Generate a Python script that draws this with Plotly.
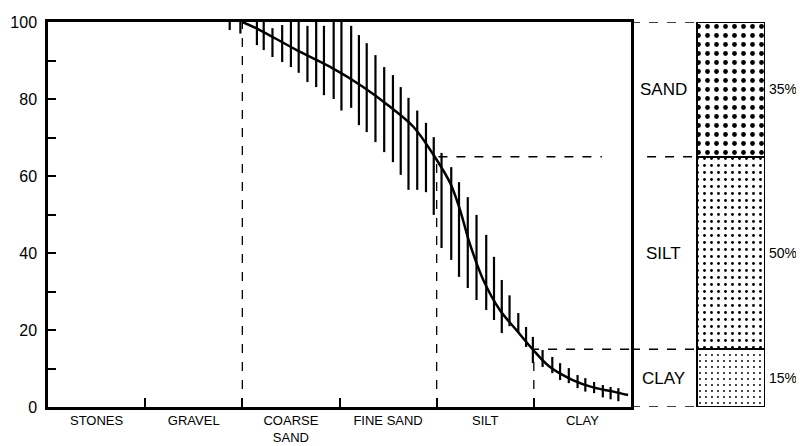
import plotly.graph_objects as go

# particle size classes along the bottom axis (one unit each)
classes = ["STONES", "GRAVEL", "COARSE<br>SAND", "FINE SAND", "SILT", "CLAY"]
class_centres = [0.5, 1.5, 2.5, 3.5, 4.5, 5.5]
class_bounds = [1, 2, 3, 4, 5]

# cumulative grading curve (% passing)
curve_x = [2.0, 2.15, 2.56, 2.90, 3.24, 3.52, 3.76, 3.98, 4.14, 4.24, 4.34,
           4.48, 4.65, 4.82, 4.98, 5.16, 5.40, 5.61, 5.82, 5.97]
curve_y = [100, 98.3, 92.7, 88.4, 83.2, 78.0, 72.8, 65.0, 58.1, 51.2, 42.5,
           33.0, 25.2, 20.0, 15.2, 10.5, 7.0, 5.1, 4.0, 3.1]

# scatter of individual samples, drawn as vertical range bars
bar_x = [1.87, 1.98, 2.15, 2.22, 2.31, 2.41, 2.50, 2.58, 2.67, 2.76, 2.84,
         2.94, 3.02, 3.12, 3.20, 3.28, 3.37, 3.46, 3.55, 3.63, 3.71, 3.80,
         3.89, 3.97, 4.05, 4.15, 4.23, 4.32, 4.41, 4.51, 4.59, 4.67, 4.75,
         4.84, 4.92, 4.99, 5.09, 5.19, 5.27, 5.36, 5.45, 5.53, 5.62, 5.71,
         5.79, 5.87]
bar_lo = [97.9, 97.0, 94.0, 92.7, 90.9, 89.6, 88.3, 86.8, 84.4, 83.1, 81.0,
          80.0, 77.0, 77.7, 73.2, 71.4, 68.8, 66.2, 63.6, 60.3, 56.4, 56.4,
          55.8, 49.9, 41.3, 38.2, 33.8, 30.9, 27.8, 25.2, 22.6, 19.2, 21.0,
          19.2, 15.6, 11.4, 10.4, 8.8, 7.0, 6.2, 4.9, 4.0, 3.6, 2.5,
          2.0, 1.5]
bar_hi = [100, 100, 100, 100, 98.4, 99.2, 100, 100, 99.0, 100, 99.0,
          100, 100, 99.0, 96.6, 94.5, 91.4, 88.3, 86.2, 83.1, 80.3, 77.0,
          73.8, 70.1, 66.0, 62.3, 58.4, 54.5, 49.9, 44.7, 39.0, 33.0, 29.0,
          24.4, 20.8, 18.2, 14.8, 13.0, 11.4, 10.1, 8.3, 7.5, 6.5, 5.7,
          5.2, 4.9]

# composition of the soil
fractions = ["CLAY", "SILT", "SAND"]
percents = [15, 50, 35]

# the page body has an 8px margin, so the figure is sized to the rest of the window
OFF = 8
W, H = 804 - OFF, 446 - OFF
x_dom = [(48 - OFF) / W, (631 - OFF) / W]
x2_dom = [(631 - OFF) / W, (765 - OFF) / W]
y_dom = [1 - (407 - OFF) / H, 1 - (22 - OFF) / H]

fig = go.Figure()

# range bars
bx, by = [], []
for x, lo, hi in zip(bar_x, bar_lo, bar_hi):
    bx += [x, x, None]
    by += [lo, hi, None]
fig.add_trace(go.Scatter(x=bx, y=by, mode="lines",
                         line=dict(color="black", width=2.2), hoverinfo="skip"))

fig.add_trace(go.Scatter(x=curve_x, y=curve_y, mode="lines",
                         line=dict(color="black", width=2.5, shape="spline")))

# boundaries of sand / silt / clay
clay_top = percents[0]
silt_top = percents[0] + percents[1]
dash = dict(color="black", width=1.3, dash="dash")
fig.add_trace(go.Scatter(x=[2, 2], y=[0, 100], mode="lines", line=dash))
fig.add_trace(go.Scatter(x=[4, 4, 5.7], y=[0, silt_top, silt_top], mode="lines", line=dash))
fig.add_trace(go.Scatter(x=[5, 5, 6], y=[0, clay_top, clay_top], mode="lines", line=dash))

# right column: dashed leaders and stacked, stippled box
lead_y = [100, silt_top, clay_top, 0]
lead_x0 = [0, 0.12, 0, 0]
for y, x0 in zip(lead_y, lead_x0):
    fig.add_trace(go.Scatter(x=[x0, 0.49], y=[y, y], mode="lines", line=dash,
                             xaxis="x2", yaxis="y2"))

dot_size = [6, 7, 9]
dot_solid = [0.08, 0.13, 0.22]
for name, pct, sz, so in zip(fractions, percents, dot_size, dot_solid):
    fig.add_trace(go.Bar(x=[0.746], y=[pct], width=0.507, xaxis="x2", yaxis="y2",
                         marker=dict(color="white", line=dict(color="black", width=2.2),
                                     pattern=dict(shape=".", fgcolor="black", bgcolor="white",
                                                  size=sz, solidity=so))))

annotations = []
base = 0
for name, pct in zip(fractions, percents):
    mid = base + pct / 2
    annotations.append(dict(x=0.24, y=mid, xref="x2", yref="y2", text=name,
                            showarrow=False, font=dict(size=17, color="black")))
    annotations.append(dict(x=1.0, y=mid, xref="x2", yref="y2", text=f"{pct}%",
                            xanchor="left", xshift=2, showarrow=False,
                            font=dict(size=14, color="black")))
    base += pct

fig.update_layout(
    template="none",
    width=W, height=H,
    margin=dict(l=0, r=0, t=0, b=0, pad=0),
    paper_bgcolor="white", plot_bgcolor="white",
    showlegend=False, barmode="stack", bargap=0,
    font=dict(family="Liberation Sans, Arial", color="black"),
    annotations=annotations,
    xaxis=dict(domain=x_dom, range=[0, 6], tickvals=class_centres, ticktext=classes,
               ticks="", tickfont=dict(size=13), ticklabelstandoff=0, automargin=False,
               showline=True, linewidth=2.5, linecolor="black", mirror=True,
               showgrid=False, zeroline=False,
               minor=dict(tickvals=class_bounds, ticks="inside", ticklen=9,
                          tickwidth=2, tickcolor="black", showgrid=False)),
    yaxis=dict(domain=y_dom, range=[0, 100], dtick=20, ticks="inside", ticklen=8,
               tickwidth=2, tickcolor="black", tickfont=dict(size=16),
               ticklabelstandoff=5, automargin=False,
               showline=True, linewidth=2.5, linecolor="black", mirror=True,
               showgrid=False, zeroline=False,
               minor=dict(dtick=10, ticks="inside", ticklen=8, tickwidth=2,
                          tickcolor="black", showgrid=False)),
    xaxis2=dict(domain=x2_dom, range=[0, 1], visible=False, anchor="y2"),
    yaxis2=dict(domain=y_dom, range=[0, 100], visible=False, anchor="x2"),
)

fig.write_html("out.html")
